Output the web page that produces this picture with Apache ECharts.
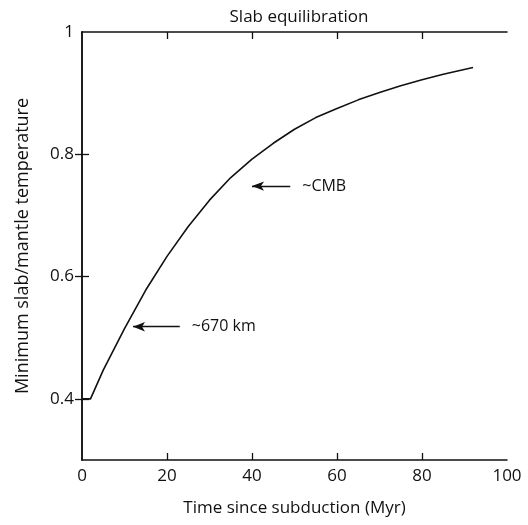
<!DOCTYPE html>
<html><head><meta charset="utf-8">
<script src="https://cdn.jsdelivr.net/npm/echarts@6/dist/echarts.min.js"></script>
<style>html,body{margin:0;padding:0;background:#fff}#c{width:528px;height:525px}</style>
</head><body><div id="c"></div>
<script>
const titleText = 'Slab equilibration';
const xName = 'Time since subduction (Myr)';
const yName = 'Minimum slab/mantle temperature';
const xTicks = [0, 20, 40, 60, 80, 100];
const yTicks = [0.4, 0.6, 0.8, 1];
const times = [0, 2, 5, 10, 15, 20, 25, 30, 35, 40, 45, 50, 55, 60, 65, 70, 75, 80, 85, 92];
const temps = [0.4, 0.4, 0.447, 0.515, 0.578, 0.633, 0.682, 0.725, 0.762, 0.792, 0.818, 0.841, 0.86, 0.875, 0.889, 0.901, 0.912, 0.922, 0.931, 0.942];
const annotations = [
  {label: '~670 km', from: [23, 0.518], to: [12, 0.518]},
  {label: '~CMB', from: [49, 0.748], to: [40, 0.748]}
];
const font = '"Open Sans", "Noto Sans", sans-serif';
const chart = echarts.init(document.getElementById('c'), null, {renderer: 'canvas'});
const axisLine = {show: true, lineStyle: {color: '#111', width: 1.5}};
const tickStyle = {lineStyle: {color: '#111', width: 1.3}};
chart.setOption({
  animation: false,
  backgroundColor: '#fff',
  title: {text: titleText, left: 294, textAlign: 'center', top: 4, textStyle: {fontFamily: font, fontSize: 17, fontWeight: 'normal', color: '#111'}},
  grid: {left: 82, right: 21, top: 32, bottom: 65},
  xAxis: [{
    type: 'value', min: 0, max: 100, position: 'bottom',
    name: xName, nameLocation: 'middle', nameGap: 40,
    nameTextStyle: {fontFamily: font, fontSize: 17, color: '#111'},
    axisLine: axisLine,
    axisTick: {show: true, inside: true, length: 7, customValues: xTicks.slice(1, -1), ...tickStyle},
    axisLabel: {customValues: xTicks, fontFamily: font, fontSize: 17, color: '#111', margin: 8},
    splitLine: {show: false}
  }, {
    type: 'value', min: 0, max: 100, position: 'top',
    axisLine: axisLine,
    axisTick: {show: true, inside: true, length: 7, customValues: xTicks.slice(1, -1), ...tickStyle},
    axisLabel: {show: false}, splitLine: {show: false}
  }],
  yAxis: [{
    type: 'value', min: 0.3, max: 1, position: 'left',
    name: yName, nameLocation: 'middle', nameGap: 50,
    nameTextStyle: {fontFamily: font, fontSize: 18, color: '#111'},
    axisLine: axisLine,
    axisTick: {show: true, inside: true, length: 7, customValues: yTicks.slice(0, -1), ...tickStyle},
    axisLabel: {customValues: yTicks, fontFamily: font, fontSize: 17, color: '#111', margin: 8},
    splitLine: {show: false}
  }, {
    type: 'value', min: 0.3, max: 1, position: 'right',
    axisLine: axisLine,
    axisTick: {show: true, inside: true, length: 7, customValues: yTicks.slice(0, -1), ...tickStyle},
    axisLabel: {show: false}, splitLine: {show: false}
  }],
  series: [{
    type: 'line',
    data: times.map((t, i) => [t, temps[i]]),
    smooth: false,
    showSymbol: false,
    lineStyle: {color: '#111', width: 1.6, join: 'round'},
    markLine: {
      silent: true,
      symbol: ['none', 'arrow'],
      symbolSize: [7, 12],
      lineStyle: {color: '#111', width: 1.3, type: 'solid'},
      label: {show: true, position: 'start', distance: 12, formatter: p => p.data.name || p.name,
        fontFamily: font, fontSize: 16, color: '#111'},
      data: annotations.map(a => [{coord: a.from, name: a.label}, {coord: a.to}])
    }
  }]
});
</script></body></html>
